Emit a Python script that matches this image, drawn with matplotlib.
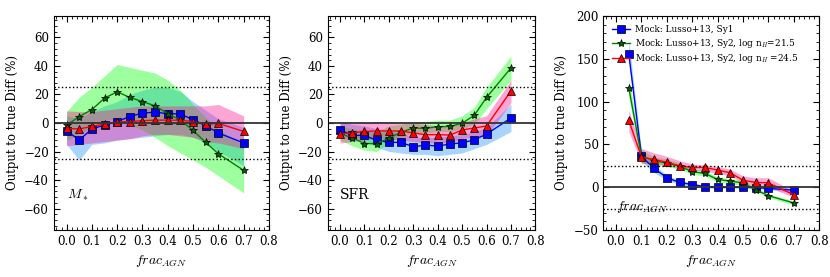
import numpy as np
import matplotlib.pyplot as plt
from matplotlib.ticker import AutoMinorLocator

plt.rcParams['font.family'] = 'DejaVu Serif'
plt.rcParams['mathtext.fontset'] = 'cm'

x = [0.0, 0.05, 0.1, 0.15, 0.2, 0.25, 0.3, 0.35, 0.4, 0.45, 0.5, 0.55, 0.6, 0.7]
x3 = x[1:]

# panel 1: stellar mass
mstar_sy1 = [-5.4, -12.0, -4.2, -1.4, 1.0, 4.5, 7.0, 7.5, 6.6, 6.3, 2.3, -1.9, -7.0, -14.0]
mstar_sy1_lo = [-15, -26, -15, -14, -12, -11, -10, -9, -8, -8, -10, -14, -20, -30]
mstar_sy1_hi = [5, 3, 8, 12, 15, 20, 23, 25, 25, 22, 15, 9, 3, -3]
mstar_n215 = [-1.5, 4.5, 9.4, 17.4, 21.9, 17.9, 15.0, 12.0, 6.6, 2.0, -5.2, -13.6, -21.6, -33.2]
mstar_n215_lo = [-12, -8, -3, 2, 3, -1, -5, -10, -16, -21, -26, -31, -37, -49]
mstar_n215_hi = [8, 18, 25, 33, 41, 39, 37, 35, 30, 23, 13, 4, -4, -16]
mstar_n245 = [-3.8, -4.2, -2.4, -0.7, 0.7, 1.0, 1.6, 2.0, 2.0, 1.9, 1.0, -1.0, -0.3, -5.9]
mstar_n245_lo = [-16, -15, -14, -13, -12, -11, -9, -8, -8, -9, -10, -13, -14, -18]
mstar_n245_hi = [8.5, 8, 8, 9, 10, 11, 12, 12, 12, 12, 12, 12, 13, 5]

# panel 2: SFR
sfr_sy1 = [-4.7, -8.7, -8.7, -12.2, -13.6, -13.6, -16.7, -15.5, -16.2, -14.8, -13.9, -11.8, -7.8, 3.5]
sfr_sy1_lo = [-10, -12, -13, -17, -20, -21, -22, -22, -23, -22, -21, -18, -15, -6]
sfr_sy1_hi = [1, -1, -2, -4, -5, -7, -10, -10, -10, -9, -8, -6, -3, 13]
sfr_n215 = [-7.5, -10.4, -14.4, -14.4, -10.6, -6.5, -3.5, -3.8, -2.6, -2.4, -0.2, 5.4, 17.9, 38.6]
sfr_n215_lo = [-12, -16, -19, -20, -14, -10, -7, -7, -6, -6, -4, -1, 10, 30]
sfr_n215_hi = [-2, -4, -5, -6, -2, -1, 1, 1, 2, 2, 5, 11, 25, 47]
sfr_n245 = [-7.8, -7.0, -5.9, -5.6, -5.6, -5.6, -7.0, -8.2, -8.2, -8.5, -4.9, -3.5, -2.1, 22.4]
sfr_n245_lo = [-14, -13, -12, -11, -11, -12, -13, -14, -14, -14, -11, -10, -9, 14]
sfr_n245_hi = [0, 0, 0, 1, 1, 0, 0, -1, -2, -2, 0, 3, 5, 30]

# panel 3: frac_AGN
frac_sy1 = [156, 36, 21.8, 11, 5.5, 3, 0.5, 0, -0.2, 0, -0.5, -1.5, -3.5]
frac_sy1_lo = [145, 30, 17, 8, 3, 1, -1, -1.5, -1.5, -1.5, -2, -3, -6]
frac_sy1_hi = [172, 42, 26, 14, 8, 5, 2, 1.5, 1, 1.5, 1, 0, -1]
frac_n215 = [116, 36, 31, 28, 24.6, 18, 16, 9, 7, 5, -3, -10, -18.5]
frac_n215_lo = [105, 28, 26, 24, 21, 15, 13, 6, 4, 2, -5, -12, -21]
frac_n215_hi = [127, 44, 35, 33, 28, 22, 19, 12, 10, 8, 0, -8, -16]
frac_n245 = [78, 35, 32.5, 29, 25, 23, 23, 20, 16.7, 8, 5.5, 5, -9]
frac_n245_lo = [65, 28, 27, 26, 22, 20, 19, 16, 13, 5, 1, 0, -12]
frac_n245_hi = [90, 45, 40, 36, 31, 27, 26, 24, 21, 13, 11, 11, -5]

labels = ['Mock: Lusso+13, Sy1',
          r'Mock: Lusso+13, Sy2, log n$_H$=21.5',
          r'Mock: Lusso+13, Sy2, log n$_H$ =24.5']

styles = [
    dict(color='blue', marker='s', mfc='blue', ms=5.5, fill='dodgerblue'),
    dict(color='green', marker='*', mfc='darkgreen', ms=6, fill='lime'),
    dict(color='red', marker='^', mfc='red', ms=6, fill='deeppink'),
]

fig = plt.figure(figsize=(8.3, 2.77), dpi=100)
boxes = [[0.065, 0.17, 0.259, 0.772],
         [0.395, 0.17, 0.250, 0.772],
         [0.727, 0.17, 0.260, 0.772]]

panels = [
    (x, [(mstar_sy1, mstar_sy1_lo, mstar_sy1_hi),
         (mstar_n215, mstar_n215_lo, mstar_n215_hi),
         (mstar_n245, mstar_n245_lo, mstar_n245_hi)], r'$M_*$'),
    (x, [(sfr_sy1, sfr_sy1_lo, sfr_sy1_hi),
         (sfr_n215, sfr_n215_lo, sfr_n215_hi),
         (sfr_n245, sfr_n245_lo, sfr_n245_hi)], 'SFR'),
    (x3, [(frac_sy1, frac_sy1_lo, frac_sy1_hi),
          (frac_n215, frac_n215_lo, frac_n215_hi),
          (frac_n245, frac_n245_lo, frac_n245_hi)], r'$frac_{AGN}$'),
]

fs = 8.5
for i, (box, (xx, series, tag)) in enumerate(zip(boxes, panels)):
    ax = fig.add_axes(box)
    for (y, lo, hi), st, lab in zip(series, styles, labels):
        ax.fill_between(xx, lo, hi, color=st['fill'], alpha=0.38, lw=0)
        ax.plot(xx, y, color=st['color'], marker=st['marker'], mfc=st['mfc'],
                mec='black', mew=0.5, ms=st['ms'], lw=1, label=lab)
    ax.axhline(0, color='#333333', lw=1.3)
    ax.axhline(25, color='black', lw=1, ls=':')
    ax.axhline(-25, color='black', lw=1, ls=':')
    ax.set_xlim(-0.05, 0.8)
    ax.set_xticks(np.arange(0, 0.81, 0.1))
    if i < 2:
        ax.set_ylim(-75, 75)
        ax.set_yticks([-60, -40, -20, 0, 20, 40, 60])
        ax.text(0.0, -53, tag, fontsize=fs + 1.5)
    else:
        ax.set_ylim(-50, 200)
        ax.set_yticks([-50, 0, 50, 100, 150, 200])
        ax.text(0.0, -27, tag, fontsize=fs + 1.5)
        ax.legend(loc='upper left', frameon=False, fontsize=6.4,
                  handlelength=2.0, handletextpad=0.5, borderaxespad=0.6,
                  labelspacing=0.3)
    ax.xaxis.set_minor_locator(AutoMinorLocator(5))
    ax.yaxis.set_minor_locator(AutoMinorLocator(5))
    ax.tick_params(which='both', direction='in', top=True, right=True,
                   labelsize=fs)
    ax.tick_params(which='major', length=4)
    ax.tick_params(which='minor', length=2)
    ax.set_xlabel(r'$frac_{AGN}$', fontsize=fs + 1.5)
    ax.set_ylabel('Output to true Diff (%)', fontsize=fs)

fig.savefig('out.png', dpi=100)
